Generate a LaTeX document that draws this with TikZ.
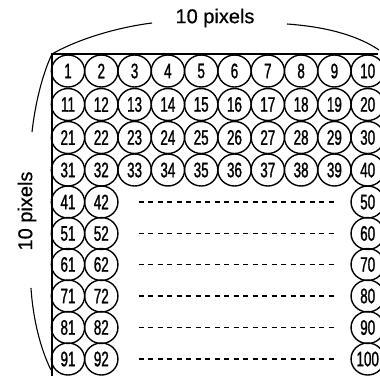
\documentclass[tikz,border=0pt]{standalone}
\usepackage{fontspec}
\setmainfont{Liberation Sans}
\newfontfamily\numfont[FakeStretch=0.64,FakeBold=1.2]{Liberation Sans}
\newfontfamily\lblfont[FakeBold=0.6]{Liberation Sans}
\usetikzlibrary{shapes.geometric}
\begin{document}
\begin{tikzpicture}[x=1pt,y=-1pt,
  pix/.style={draw, ellipse, line width=1.4pt, minimum width=33.3pt, minimum height=32pt,
    inner sep=0pt, font=\numfont\fontsize{21}{21}\selectfont},
  framepen/.style={line width=1.7pt},
  dashline/.style={line width=1.2pt, dash pattern=on 5pt off 4.5pt, shorten <=20pt, shorten >=13pt},
  curvepen/.style={line width=1.1pt},
  lbl/.style={inner sep=0pt, font=\lblfont\fontsize{20}{20}\selectfont}]
\useasboundingbox (0,0) rectangle (380,376);
% frame
\coordinate (tl) at (52,54);
\coordinate (tr) at (378,54);
\coordinate (bl) at (52,376);
\draw[framepen] (bl) -- (tl) -- (tr);
% full rows
\foreach \r/\y in {0/71,1/104.5,2/137.5,3/170}{
  \foreach \c in {1,...,10}{
    \pgfmathtruncatemacro\n{\r*10+\c}
    \node[pix] (c\n) at ({68+33.3*(\c-1)},\y) {\n};
  }
}
% partial rows
\foreach \r/\y in {4/202,5/233.5,6/264.5,7/296,8/327.5,9/359}{
  \foreach \c in {1,2,10}{
    \pgfmathtruncatemacro\n{\r*10+\c}
    \node[pix] (c\n) at ({68+33.3*(\c-1)},\y) {\n};
  }
  \pgfmathtruncatemacro\a{\r*10+2}
  \pgfmathtruncatemacro\b{\r*10+10}
  \draw[dashline] (c\a) -- (c\b);
}
% labels
\node[lbl] (top) at (215,18) {10 pixels};
\node[lbl, rotate=90] (left) at (27,211) {10 pixels};
\coordinate (ta) at (152,23);
\coordinate (tb) at (287,24);
\coordinate (la) at (32,132);
\coordinate (lb) at (31,288);
\coordinate (lc) at (51,370);
\draw[curvepen] (tl) .. controls (80,38) and (120,27) .. (ta);
\draw[curvepen] (tb) .. controls (330,27) and (360,37) .. (379,50);
\draw[curvepen] (tl) .. controls (42,75) and (35,105) .. (la);
\draw[curvepen] (lb) .. controls (33,320) and (41,350) .. (lc);
\end{tikzpicture}
\end{document}
